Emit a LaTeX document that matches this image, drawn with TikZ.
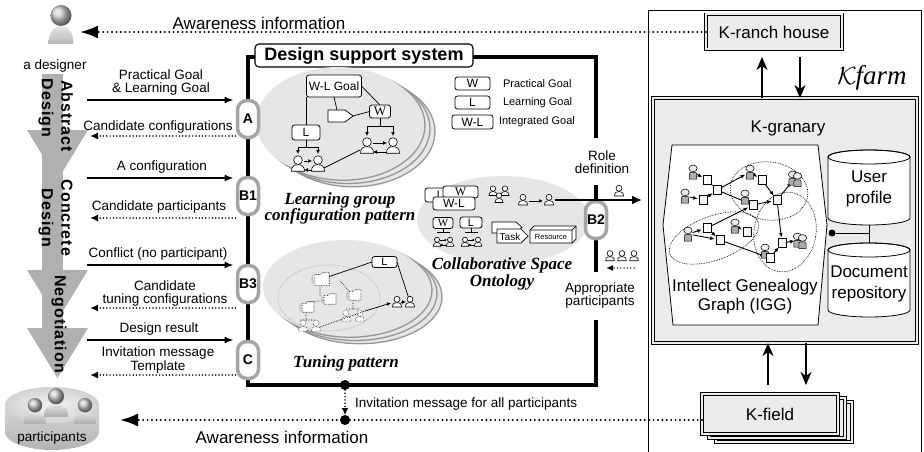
\documentclass[tikz,border=0pt]{standalone}
\usepackage{fontspec}
\setmainfont{Liberation Sans}
\newfontfamily\serifface{Liberation Serif}
\newfontfamily\stageface[LetterSpace=6]{Liberation Sans}
\usetikzlibrary{arrows.meta}

\definecolor{stagegray}{RGB}{176,176,176}
\definecolor{panelgray}{RGB}{230,230,230}
\definecolor{rimgray}{RGB}{150,150,150}
\definecolor{portgray}{RGB}{165,165,165}
\definecolor{boxgray}{RGB}{236,236,236}

\tikzset{
  every node/.style={inner sep=0pt, outer sep=0pt},
  lbl/.style={font=\fontsize{13.5}{12.5}\selectfont, align=center},
  biglbl/.style={font=\fontsize{17}{20}\selectfont, align=center},
  stagelbl/.style={font=\stageface\bfseries\fontsize{16}{16}\selectfont, rotate=-90},
  patlbl/.style={font=\serifface\bfseries\itshape\fontsize{17}{16.5}\selectfont, align=center},
  fwdarr/.style={line width=1.6pt, -{Latex[length=9pt,width=7pt]}},
  backarr/.style={line width=1.7pt, line cap=round, dash pattern=on 0pt off 3.3pt, -{Latex[length=8pt,width=7pt]}},
  awarearr/.style={line width=2.2pt, line cap=round, dash pattern=on 0pt off 4.4pt, -{Latex[length=18pt,width=13pt]}},
  portbox/.style={draw=portgray, line width=3.5pt, fill=white, rounded corners=9.5pt, minimum width=21pt, minimum height=37pt, font=\bfseries\fontsize{14}{14}\selectfont},
  goalbox/.style={draw, line width=0.8pt, fill=white, rounded corners=2.5pt, font=\fontsize{12}{12}\selectfont},
  sgoalbox/.style={goalbox, font=\serifface\fontsize{13}{13}\selectfont},
  rimell/.style={fill=panelgray, draw=rimgray, line width=1.3pt},
  kbox/.style={draw, line width=0.8pt, double=boxgray, double distance=2pt, fill=boxgray, font=\fontsize{17}{17}\selectfont},
  karr/.style={line width=1.2pt, -{Stealth[length=13pt,width=11pt,inset=4pt]}},
  treeline/.style={line width=0.9pt},
  tinyarr/.style={line width=0.8pt, -{Latex[length=4pt,width=4pt]}},
  iggarr/.style={line width=0.9pt, shorten <=5pt, shorten >=5.5pt, -{Latex[length=4.5pt,width=4pt]}},
  ring/.style={densely dotted, line width=0.7pt},
  man/.pic={
    \filldraw[fill=white, line width=0.6pt] (-4.5,5) .. controls (-4.5,1.6) and (-2.6,0.5) .. (0,0.5) .. controls (2.6,0.5) and (4.5,1.6) .. (4.5,5) -- cycle;
    \filldraw[fill=white, line width=0.6pt] (0,-2.7) circle (3);
  },
  fademan/.pic={
    \draw[densely dotted, fill=white, line width=0.5pt] (-4.5,5) .. controls (-4.5,1.6) and (-2.6,0.5) .. (0,0.5) .. controls (2.6,0.5) and (4.5,1.6) .. (4.5,5) -- cycle;
    \draw[densely dotted, fill=white, line width=0.5pt] (0,-2.7) circle (3);
  },
  gman/.pic={
    \filldraw[fill=gray!65, line width=0.5pt] (-3.6,7) -- (-3.6,2.2) .. controls (-3.6,0.4) .. (0,0.4) .. controls (3.6,0.4) .. (3.6,2.2) -- (3.6,7) -- cycle;
    \filldraw[fill=gray!15, line width=0.5pt] (0,-3.6) ellipse[x radius=4.2, y radius=3.3];
  },
  doc/.pic={
    \filldraw[fill=gray!6, line width=0.5pt] (-4,-4.5) rectangle (4,4.5);
  },
  fadedoc/.pic={
    \fill[gray!50] (-9,-6) .. controls (-13,-3) and (-13,4) .. (-9,7) .. controls (-10.5,3) and (-10.5,-3) .. (-9,-6) -- cycle;
    \draw[densely dotted, fill=white, line width=0.6pt] (-8,-5) -- (-2,-5) -- (0,-7) -- (8,-7) -- (8,7) -- (-8,7) -- cycle;
  },
  bust/.pic={
    \shade[top color=gray!25, bottom color=gray!65] (-9,9) .. controls (-9,1) and (-5,0) .. (0,0) .. controls (5,0) and (9,1) .. (9,9) -- cycle;
    \shade[ball color=gray!45] (0,-6.5) circle (6);
  },
}

\begin{document}
\begin{tikzpicture}[x=1pt,y=-1pt]
\useasboundingbox (0,0) rectangle (924,452);

% ---------------- Kfarm frame ----------------
\draw[line width=0.8pt] (648,452) -- (648,10) -- (921,10) -- (921,452);

% ---------------- designer ----------------
\shade[top color=gray!22, bottom color=gray!55] (48.5,44) .. controls (48.5,33) and (53,26.5) .. (61,26.5) .. controls (69,26.5) and (73.5,33) .. (73.5,44) -- cycle;
\shade[ball color=gray!40] (61,15.5) circle (10.5);
\node[lbl] (designer) at (55,66) {a designer};
\coordinate (designerin) at (80,32);

% ---------------- design stages ----------------
\fill[stagegray] (42,74) rectangle (63,335);
\fill[stagegray] (27,130) -- (88,130) -- (57.5,180) -- cycle;
\fill[stagegray] (27,270) -- (88,270) -- (57.5,320) -- cycle;
\fill[stagegray] (27,328) -- (88,328) -- (57.5,378) -- cycle;
\node[stagelbl] (absA) at (67,116) {Abstract};
\node[stagelbl] (absB) at (46,108) {Design};
\node[stagelbl] (conA) at (67,218) {Concrete};
\node[stagelbl] (conB) at (46,218) {Design};
\node[stagelbl] (nego) at (59,324) {Negotiation};

% ---------------- design support system frame ----------------
\draw[line width=4pt] (258,57) -- (248,57) -- (248,385) -- (596,385) -- (596,320);
\draw[line width=4pt] (596,272) -- (596,185);
\draw[line width=4pt] (596,138) -- (596,57) -- (470,57);
\node[draw, line width=1.1pt, fill=white, rounded corners=4pt, minimum width=218pt, minimum height=23pt,
      font=\bfseries\fontsize{18}{18}\selectfont] (dss) at (364,55.5) {Design support system};

% ---------------- learning group configuration pattern ----------------
\foreach \d in {15,10,5} \draw[rimell] (338+\d,122+0.65*\d) ellipse[x radius=82, y radius=55];
\fill[panelgray] (338,122) ellipse[x radius=82, y radius=55];
\node[goalbox, minimum width=55pt, minimum height=22pt] (wlg) at (334,86) {W-L Goal};
\node[sgoalbox, minimum width=21pt, minimum height=13pt] (lgW) at (380,111.5) {W};
\node[goalbox, minimum width=28pt, minimum height=15pt] (lgL) at (306,132.5) {L};
\coordinate (penttop) at (337,110);
\coordinate (penttip) at (353,116);
\draw[line width=0.7pt] (wlg.south) -- (penttop);
\filldraw[fill=white, line width=0.7pt] (328,110) -- (345,110) -- (penttip) -- (345,122) -- (328,122) -- cycle;
\draw[line width=0.7pt] (penttip) -- (lgW.west);
\draw[line width=0.7pt] (wlg.east) -- (lgW.north);
\draw[line width=0.7pt] (lgL.north) -- (lgL.north |- wlg.south);
% L subtree
\draw[treeline] (lgL.south) -- (306,147) (298,147) -- (318,147);
\draw[tinyarr] (298,147) -- (298,154);
\draw[tinyarr] (318,147) -- (318,154);
\pic[scale=1.45] at (298,164) {man};
\pic[scale=1.45] at (318,164) {man};
\draw[tinyarr] (304,161) -- (312,161);
\draw[tinyarr] (312,170) -- (304,170);
% W subtree
\draw[treeline] (lgW.south) -- (380,126) (367,126) -- (393,126);
\draw[tinyarr] (367,126) -- (367,136);
\draw[tinyarr] (393,126) -- (393,136);
\pic[scale=1.45] at (367,146) {man};
\pic[scale=1.45] at (393,146) {man};
\draw[tinyarr] (373,143) -- (387,143);
\draw[tinyarr] (387,152) -- (373,152);
\draw[line width=0.7pt] (324,168) -- (360,150);
\node[patlbl] (lgcp) at (340,208.5) {Learning group\\configuration pattern};

% ---------------- legend ----------------
\node[goalbox, minimum width=35pt, minimum height=13pt] (legW) at (472.5,83.5) {W};
\node[goalbox, minimum width=35pt, minimum height=13pt] (legL) at (472.5,102.5) {L};
\node[goalbox, minimum width=41pt, minimum height=14pt] (legWL) at (472.5,122) {W-L};
\node[anchor=west, font=\fontsize{11}{11}\selectfont] (legWt) at (503,84) {Practical Goal};
\node[anchor=west, font=\fontsize{11}{11}\selectfont] (legLt) at (503,103) {Learning Goal};
\node[anchor=west, font=\fontsize{11}{11}\selectfont] (legWLt) at (499,122) {Integrated Goal};

% ---------------- collaborative space ontology ----------------
\fill[panelgray] (503,220) ellipse[x radius=86, y radius=44];
\node[goalbox, minimum width=30pt, minimum height=14pt, font=\fontsize{11}{11}\selectfont] (oL) at (440,195) {L};
\node[sgoalbox, minimum width=35pt, minimum height=12pt, font=\serifface\fontsize{12}{12}\selectfont] (oW) at (460.5,192) {W};
\node[goalbox, minimum width=42pt, minimum height=13pt, font=\fontsize{12}{12}\selectfont] (oWL) at (454,203.5) {W-L};
\pic[scale=0.9] at (493,191) {man};
\pic[scale=0.9] at (505,191) {man};
\pic[scale=0.9] at (499,198) {man};
\coordinate (roleA) at (523,200);
\coordinate (roleB) at (549,200);
\pic at (roleA) {man};
\pic at (roleB) {man};
\draw[tinyarr] (529,201) -- (543,201);
% W and L subtrees
\node[sgoalbox, minimum width=20pt, minimum height=11pt, font=\serifface\fontsize{11}{11}\selectfont] (oW2) at (443,223) {W};
\node[goalbox, minimum width=22pt, minimum height=11pt, font=\fontsize{11}{11}\selectfont] (oL2) at (471,222.5) {L};
\draw[line width=0.7pt] (oW2.south) -- (443,232) (437,232) -- (450,232);
\draw[line width=0.7pt] (oL2.south) -- (471,232) (465,232) -- (478,232);
\foreach \px in {437,450,465,478} \pic[scale=0.85] at (\px,242) {man};
\draw[line width=0.6pt, -{Latex[length=2.5pt,width=2.5pt]}] (440,240) -- (447,240);
\draw[line width=0.6pt, -{Latex[length=2.5pt,width=2.5pt]}] (447,245) -- (440,245);
\draw[line width=0.6pt, -{Latex[length=2.5pt,width=2.5pt]}] (468,240) -- (475,240);
\draw[line width=0.6pt, -{Latex[length=2.5pt,width=2.5pt]}] (475,245) -- (468,245);
% task and resource
\filldraw[fill=white, line width=0.7pt] (492,222) -- (516,222) -- (522,227.5) -- (516,233) -- (492,233) -- cycle;
\filldraw[fill=white, line width=0.7pt] (497,229) -- (521,229) -- (528,236) -- (521,243) -- (497,243) -- cycle;
\node[font=\fontsize{10}{10}\selectfont] (task) at (510,236.5) {Task};
\filldraw[fill=white, line width=0.7pt] (530,230) -- (534,226) -- (576,226) -- (576,239) -- (572,243) -- (530,243) -- cycle;
\draw[line width=0.7pt] (530,230) -- (572,230) -- (576,226) (572,230) -- (572,243);
\node[font=\fontsize{7.5}{7.5}\selectfont] (resource) at (551,236.8) {Resource};
\node[patlbl] (csolbl) at (502,274) {Collaborative Space\\Ontology};

% ---------------- tuning pattern ----------------
\foreach \d in {15,10,5} \draw[rimell] (345+\d,287+0.65*\d) ellipse[x radius=82, y radius=47];
\fill[panelgray] (345,287) ellipse[x radius=82, y radius=47];
\draw[densely dotted, draw=gray!70, line width=0.6pt] (329,298) ellipse[x radius=51, y radius=33];
\node[goalbox, minimum width=25pt, minimum height=11pt, font=\fontsize{11}{11}\selectfont] (tL) at (384.5,262) {L};
\coordinate (tpA) at (397,302);
\coordinate (tpB) at (410,302);
\coordinate (tdocA) at (322,279);
\draw[line width=0.7pt] (tL.west) -- (tdocA);
\draw[line width=0.7pt] (tL.east) -- (tpB);
\draw[densely dotted, line width=0.6pt] (320,286) -- (320,296) (330,300) -- (306,302) (306,312) -- (306,320) (300,320) -- (316,320)
  (353,300) -- (353,309) (346,309) -- (360,309) (340,281) -- (350,292);
\pic[scale=0.9] at (322,279) {fadedoc};
\pic[scale=0.75] at (330,299) {fadedoc};
\pic[scale=0.75] at (308,307) {fadedoc};
\pic[scale=0.75] at (355,295) {fadedoc};
\pic at (346,316) {fademan};
\pic at (360,316) {fademan};
\pic at (303,326) {fademan};
\pic at (316,326) {fademan};
\draw[densely dotted, line width=0.7pt] (320,327) -- (365,311);
\draw[line width=0.7pt, -{Latex[length=4pt,width=4pt]}] (365,311) -- (391,303);
\pic at (tpA) {man};
\pic at (tpB) {man};
\draw[tinyarr] (401,302) -- (406,302);
\node[patlbl] (tplbl) at (346,363) {Tuning pattern};

% ---------------- B2 side ----------------
\node[portbox] (pB2) at (596,220) {B2};
\coordinate (roleout) at (642,200);
\draw[line width=2.2pt, -{Latex[length=10pt,width=9pt]}] (555,200) -- (roleout);
\pic at (619,191) {man};
\node[lbl] (roledef) at (602,162) {Role\\definition};
\foreach \px in {610,622,634} \pic[scale=0.95] at (\px,256) {man};
\coordinate (apfrom) at (634,268);
\coordinate (apto) at (606,268);
\draw[backarr, line width=1.5pt, -{Latex[length=7pt,width=6pt]}] (apfrom) -- (apto);
\node[lbl] (approp) at (600,295.5) {Appropriate\\participants};

% ---------------- designer <-> system messages ----------------
\coordinate (m1) at (87,100);  \coordinate (m2) at (90,136);
\coordinate (m3) at (87,178);  \coordinate (m4) at (90,218);
\coordinate (m5) at (87,265);  \coordinate (m6) at (90,308);
\coordinate (m7) at (87,340);  \coordinate (m8) at (90,375);
\node[portbox] (pA) at (248,119) {A};
\node[portbox] (pB1) at (248,196) {B1};
\node[portbox] (pB3) at (248,284) {B3};
\node[portbox] (pC) at (248,360) {C};
\draw[fwdarr] (m1) -- ([xshift=-4pt]pA.west |- m1);
\draw[backarr] ([xshift=-2pt]pA.west |- m2) -- (m2);
\draw[fwdarr] (m3) -- ([xshift=-4pt]pB1.west |- m3);
\draw[backarr] ([xshift=-2pt]pB1.west |- m4) -- (m4);
\draw[fwdarr] (m5) -- ([xshift=-4pt]pB3.west |- m5);
\draw[backarr] ([xshift=-2pt]pB3.west |- m6) -- (m6);
\draw[fwdarr] (m7) -- ([xshift=-4pt]pC.west |- m7);
\draw[backarr] ([xshift=-2pt]pC.west |- m8) -- (m8);
\node[lbl] (t1) at (161,82.5) {Practical Goal\\\& Learning Goal};
\node[lbl] (t2) at (158,127) {Candidate configurations};
\node[lbl] (t3) at (162,167) {A configuration};
\node[lbl] (t4) at (159,207) {Candidate participants};
\node[lbl] (t5) at (158,254) {Conflict (no participant)};
\node[lbl] (t6) at (165,293.5) {Candidate\\tuning configurations};
\node[lbl] (t7) at (159,329) {Design result};
\node[lbl] (t8) at (158,360) {Invitation message\\Template};

% ---------------- Kfarm ----------------
\node[kbox, minimum width=136pt, minimum height=35pt] (kranch) at (774,32) {K-ranch house};
\node[kbox, minimum width=264pt, minimum height=245pt] (kgran) at (785,220.5) {};
\node[font=\fontsize{17}{17}\selectfont] (kgranlbl) at (788,128) {K-granary};
\node[font=\fontsize{27}{27}\selectfont] (kfarm) at (872,78) {$\mathcal{K}$\kern-1pt{\serifface\itshape farm}};
\coordinate (kr1) at (762,57); \coordinate (kr2) at (800,57);
\draw[karr] (kgran.north -| kr1) -- (kr1);
\draw[karr] (kr2) -- (kgran.north -| kr2);

% intellect genealogy graph
\filldraw[fill=white, line width=0.8pt] (672,145) -- (818,145) -- (827,225) -- (818,325) -- (673,325) -- (663,225) -- cycle;
\draw[ring, rotate around={-8:(769,191)}] (769,191) ellipse[x radius=39, y radius=29];
\draw[ring, rotate around={-10:(785,232)}] (785,232) ellipse[x radius=31, y radius=40];
\draw[ring, rotate around={20:(714,238)}] (714,238) ellipse[x radius=47, y radius=22];
\coordinate (g1) at (693,172); \coordinate (d1) at (707,180);
\coordinate (g2) at (685,196); \coordinate (d2) at (703,200);
\coordinate (d3) at (717,190);
\coordinate (g3) at (750,172); \coordinate (d4) at (762,180);
\coordinate (g4) at (795,178);
\coordinate (g5) at (745,197); \coordinate (d5) at (753,205);
\coordinate (d6) at (777,200);
\coordinate (d7) at (707,228); \coordinate (g6) at (688,234);
\coordinate (d8) at (720,240);
\coordinate (g7) at (735,226); \coordinate (d9) at (747,232);
\coordinate (d10) at (782,243); \coordinate (g8) at (800,240);
\coordinate (g9) at (765,251); \coordinate (d11) at (770,258);
\foreach \a/\b in {g1/d1,d1/d3,g2/d2,d2/d3,d3/g3,d3/d5,g3/d4,d4/d6,d6/g4,g5/d5,d5/d6,d6/d10,d10/g8,d7/d5,g6/d7,g6/d8,d7/d8,g7/d9,d8/d11,d11/d10,g9/d11}
  \draw[iggarr] (\a) -- (\b);
\foreach \p in {g1,g2,g3,g5,g6,g7,g9} \pic at (\p) {gman};
\pic at ([xshift=-2.5pt]g4) {gman}; \pic at ([xshift=2.5pt,yshift=-1.5pt]g4) {gman};
\pic at ([xshift=-2.5pt]g8) {gman}; \pic at ([xshift=2.5pt,yshift=-1.5pt]g8) {gman};
\foreach \p in {d1,d2,d3,d4,d5,d6,d7,d8,d9,d10,d11} \pic at (\p) {doc};
\node[biglbl, font=\fontsize{17}{19}\selectfont] (igglbl) at (745,297) {Intellect Genealogy\\Graph (IGG)};

% repositories
\filldraw[fill=white, line width=0.8pt] (828,157) -- (828,218) arc[start angle=180, end angle=0, x radius=41, y radius=7] -- (910,157) arc[start angle=0, end angle=-180, x radius=41, y radius=7] -- cycle;
\draw[line width=0.8pt] (869,157) ellipse[x radius=41, y radius=7];
\filldraw[fill=white, line width=0.8pt] (828,250) -- (828,310) arc[start angle=180, end angle=0, x radius=41, y radius=7] -- (910,250) arc[start angle=0, end angle=-180, x radius=41, y radius=7] -- cycle;
\draw[line width=0.8pt] (869,250) ellipse[x radius=41, y radius=7];
\node[biglbl, font=\fontsize{17}{21}\selectfont] (userprof) at (869,189) {User\\profile};
\node[biglbl, font=\fontsize{17}{21}\selectfont] (docrepo) at (869,284) {Document\\repository};
\coordinate (upbot) at (869,225); \coordinate (drtop) at (869,243);
\node[circle, fill, minimum size=7pt] (iggdot) at (832,233) {};
\draw[line width=0.8pt] (iggdot) -- (upbot |- iggdot);
\draw[line width=0.8pt] (upbot) -- (drtop);

% K-field
\node[kbox, minimum width=136pt, minimum height=40pt] (kfieldC) at (784,422) {};
\node[kbox, minimum width=136pt, minimum height=40pt] (kfieldB) at (777,418) {};
\node[kbox, minimum width=136pt, minimum height=40pt] (kfield) at (770,414) {K-field};
\coordinate (kf1) at (768,385); \coordinate (kf2) at (806,385);
\draw[karr] (kf1) -- (kgran.south -| kf1);
\draw[karr] (kgran.south -| kf2) -- (kf2);

% ---------------- awareness and invitation ----------------
\draw[awarearr] (kranch.west) -- (designerin);
\node[font=\fontsize{17}{17}\selectfont] (aw1) at (259,23) {Awareness information};
\coordinate (partin) at (120,420);
\draw[awarearr] (kfield.west |- partin) -- (partin);
\node[font=\fontsize{17}{17}\selectfont] (aw2) at (282,437) {Awareness information};
\node[circle, fill, minimum size=10pt] (topdot) at (345,385) {};
\node[circle, fill, minimum size=10pt] (botdot) at (345,420) {};
\draw[backarr, -{Latex[length=7pt,width=7pt]}] (topdot) -- (botdot.north);
\node[lbl, anchor=west] (invall) at (355,404) {Invitation message for all participants};

% ---------------- participants ----------------
\shade[top color=gray!20, bottom color=gray!60] (5,405) -- (5,432) arc[start angle=180, end angle=0, x radius=47, y radius=18] -- (99,405) arc[start angle=0, end angle=-180, x radius=47, y radius=18] -- cycle;
\shade[inner color=gray!8, outer color=gray!35] (52,405) ellipse[x radius=47, y radius=18];
\pic[scale=1.2] at (35,413) {bust};
\pic[scale=1.35] at (56,405) {bust};
\pic[scale=1.2] at (85,413) {bust};
\node[lbl] (partlbl) at (52,438) {participants};
\end{tikzpicture}
\end{document}
